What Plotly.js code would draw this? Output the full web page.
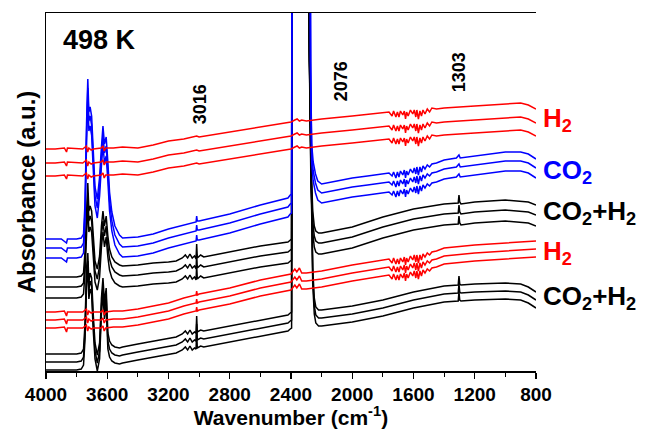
<!DOCTYPE html>
<html>
<head>
<meta charset="utf-8">
<script src="https://cdn.plot.ly/plotly-3.0.1.min.js"></script>
<style>html,body{margin:0;padding:0;background:#fff;}#chart{width:648px;height:429px;}</style>
</head>
<body>
<div id="chart"></div>
<script>
// ---- data (wavenumber cm-1, relative absorbance a.u.) ----
// each profile is the middle spectrum of a group of three; offsets stack the three spectra
const redTopProfile = [[4000,208],[3940,208],[3880,209],[3866,205],[3860,209],[3800,208],[3760,208],[3736,211],[3728,205],[3720,209],[3705,207],[3690,208],[3640,209],[3628,211],[3620,206],[3610,209],[3560,209],[3500,210],[3400,209],[3300,212],[3200,216],[3100,218],[3016,221],[3000,220],[2800,225],[2600,230],[2400,235],[2375,237],[2360,238],[2345,236],[2330,237],[2300,236],[2200,238],[2000,241],[1800,244],[1760,245],[1740,241],[1730,246],[1715,240],[1705,245],[1695,240],[1685,246],[1670,242],[1660,246],[1652,238],[1645,245],[1635,241],[1620,247],[1605,243],[1595,247],[1585,240],[1578,247],[1568,238],[1558,246],[1548,241],[1538,247],[1525,243],[1510,248],[1495,245],[1480,249],[1450,248],[1400,249],[1200,251],[1000,253],[900,254],[850,252],[800,248]];
const redTopOffsets = [14, 0, -13];

const blueProfile = [[4000,123],[3900,123],[3866,119],[3860,123],[3800,123],[3770,124],[3755,128],[3745,160],[3735,240],[3727,283],[3720,250],[3712,255],[3702,246],[3692,205],[3680,175],[3665,163],[3650,185],[3638,215],[3628,236],[3618,218],[3607,225],[3596,200],[3585,170],[3570,150],[3550,136],[3520,127],[3500,124],[3400,125],[3300,128],[3200,133],[3100,137],[3030,140],[3020,140],[3016,146],[3012,141],[3000,141],[2800,148],[2600,157],[2420,164],[2405,167],[2396,168],[2392,700],[2280,700],[2272,300],[2265,218],[2255,200],[2240,188],[2225,181],[2200,178],[2100,181],[2000,184],[1900,186],[1800,188],[1760,189],[1740,186],[1730,190],[1715,184],[1705,190],[1695,185],[1685,191],[1670,187],[1660,192],[1652,184],[1645,191],[1635,187],[1620,193],[1605,189],[1595,194],[1585,188],[1578,195],[1568,187],[1558,195],[1548,190],[1538,196],[1525,193],[1510,197],[1495,195],[1480,198],[1450,199],[1400,202],[1320,204],[1303,207],[1295,204],[1200,206],[1000,210],[900,210],[850,208],[800,203]];
const blueOffsets = [9, 0, -10];

const black2Profile = [[4000,84],[3900,84],[3800,84],[3770,85],[3755,88],[3745,110],[3735,160],[3727,178],[3720,150],[3712,155],[3702,150],[3692,125],[3680,100],[3665,92],[3650,105],[3638,135],[3628,150],[3618,135],[3607,145],[3596,125],[3585,112],[3570,104],[3550,99],[3520,96],[3500,95],[3400,96],[3300,98],[3200,99],[3150,100],[3110,103],[3090,106],[3075,103],[3060,107],[3045,103],[3030,105],[3020,102],[3016,117],[3012,103],[2990,106],[2970,104],[2900,106],[2800,109],[2600,115],[2420,119],[2405,121],[2396,122],[2392,700],[2290,700],[2280,320],[2270,200],[2258,150],[2248,135],[2238,130],[2220,128],[2200,128],[2100,131],[2000,134],[1800,144],[1600,152],[1400,157],[1320,158],[1308,158],[1303,166],[1298,159],[1290,157],[1200,159],[1000,161],[900,160],[850,159],[800,156]];
const black2Offsets = [10, 0, -11];

const red2Profile = [[4000,51],[3940,51],[3880,52],[3866,47],[3860,51],[3800,51],[3760,51],[3736,54],[3728,48],[3720,52],[3705,50],[3690,51],[3640,51],[3628,53],[3620,48],[3610,51],[3560,52],[3500,52],[3400,54],[3300,57],[3200,60],[3100,65],[3020,68],[3016,72],[3012,68],[3000,69],[2800,75],[2600,83],[2400,89],[2375,94],[2362,91],[2345,95],[2330,90],[2300,90],[2200,92],[2000,98],[1800,103],[1760,104],[1740,100],[1730,105],[1715,99],[1705,104],[1695,99],[1685,105],[1670,101],[1660,106],[1652,98],[1645,105],[1635,101],[1620,107],[1605,103],[1595,108],[1585,101],[1578,108],[1568,100],[1558,108],[1548,103],[1538,109],[1525,106],[1510,110],[1495,108],[1480,111],[1450,112],[1400,115],[1200,118],[1000,120],[900,121],[800,122]];
const red2Offsets = [8, 0, -8];

const black1Profile = [[4000,9],[3900,9],[3800,9],[3770,10],[3755,14],[3745,40],[3735,95],[3727,110],[3720,80],[3712,90],[3702,85],[3692,50],[3680,20],[3665,8],[3650,20],[3638,65],[3628,85],[3618,60],[3607,75],[3596,30],[3585,22],[3570,18],[3550,16],[3520,15],[3500,16],[3400,19],[3300,22],[3200,25],[3150,26],[3110,29],[3090,32],[3075,29],[3060,33],[3045,29],[3030,31],[3020,30],[3016,47],[3012,31],[2990,33],[2970,32],[2900,34],[2800,37],[2600,43],[2420,48],[2405,50],[2396,51],[2392,700],[2290,700],[2280,320],[2270,191],[2258,95],[2248,65],[2238,56],[2220,53],[2200,53],[2100,55],[2000,57],[1800,63],[1600,71],[1400,77],[1320,78],[1308,78],[1303,87],[1298,79],[1290,78],[1200,79],[1000,80],[900,79],[850,76],[800,71]];
const black1Offsets = [8, 0, -8];

const tickValues = [4000, 3600, 3200, 2800, 2400, 2000, 1600, 1200, 800];
const tickLabels = ["4000", "3600", "3200", "2800", "2400", "2000", "1600", "1200", "800"];
const bandLabels = ["3016", "2076", "1303"];
const bandPositions = [2995, 2076, 1297];
const gasLabels = ["H<sub>2</sub>", "CO<sub>2</sub>", "CO<sub>2</sub>+H<sub>2</sub>", "H<sub>2</sub>", "CO<sub>2</sub>+H<sub>2</sub>"];
const tempLabel = "498 K";

// ---- drawing ----
const RED = "#ff0000", BLUE = "#0000ff", BLACK = "#000000";
function group(profile, offsets, color) {
  return offsets.map(off => ({
    type: "scatter", mode: "lines",
    x: profile.map(p => p[0]),
    y: profile.map(p => p[1] + off),
    line: {color: color, width: 1.5},
    hoverinfo: "skip", showlegend: false
  }));
}
const data = [].concat(
  group(black1Profile, black1Offsets, BLACK),
  group(black2Profile, black2Offsets, BLACK),
  group(blueProfile, blueOffsets, BLUE),
  group(red2Profile, red2Offsets, RED),
  group(redTopProfile, redTopOffsets, RED)
);

const FONT = "Arial, 'Liberation Sans', sans-serif";
const bandY = [0.745, 0.808, 0.834];
const gasY = [0.702, 0.556, 0.442, 0.331, 0.205];
const gasColors = [RED, BLUE, BLACK, RED, BLACK];

const annotations = [
  {xref: "paper", yref: "paper", x: 0.031, y: 0.925, xanchor: "left", yanchor: "middle",
   text: "<b>" + tempLabel + "</b>", showarrow: false, font: {family: FONT, size: 27, color: BLACK}}
];
bandLabels.forEach((t, i) => annotations.push({
  xref: "x", yref: "paper", x: bandPositions[i], y: bandY[i], textangle: -90,
  xanchor: "center", yanchor: "middle", text: "<b>" + t + "</b>", showarrow: false,
  font: {family: FONT, size: 18, color: BLACK}
}));
gasLabels.forEach((t, i) => annotations.push({
  xref: "paper", yref: "paper", x: 1.01, y: gasY[i], xanchor: "left", yanchor: "middle",
  text: "<b>" + t + "</b>", showarrow: false, font: {family: FONT, size: 26, color: gasColors[i]}
}));

const layout = {
  width: 648, height: 429,
  margin: {l: 46, r: 112, t: 13, b: 58, pad: 0},
  paper_bgcolor: "#ffffff", plot_bgcolor: "#ffffff",
  showlegend: false,
  xaxis: {
    range: [4000, 800], tickvals: tickValues, ticktext: tickLabels,
    ticks: "outside", ticklen: 6, tickwidth: 1.3, tickcolor: BLACK,
    minor: {dtick: 200, tick0: 0, ticks: "outside", ticklen: 4, tickwidth: 1.1, tickcolor: BLACK, showgrid: false},
    showline: true, linewidth: 1.5, linecolor: BLACK, mirror: true,
    showgrid: false, zeroline: false, automargin: false,
    tickfont: {family: FONT, size: 19, color: BLACK, weight: "bold"},
    title: {text: "Wavenumber (cm<sup>-1</sup>)", standoff: 4, font: {family: FONT, size: 21, color: BLACK, weight: "bold"}}
  },
  yaxis: {
    range: [0, 358], showticklabels: false, ticks: "",
    showline: true, linewidth: 1.5, linecolor: BLACK, mirror: false,
    showgrid: false, zeroline: false, automargin: false,
    title: {text: "Absorbance (a.u.)", standoff: 2, font: {family: FONT, size: 24, color: BLACK, weight: "bold"}}
  },
  annotations: annotations
};

Plotly.newPlot("chart", data, layout, {staticPlot: true, displayModeBar: false});
</script>
</body>
</html>
